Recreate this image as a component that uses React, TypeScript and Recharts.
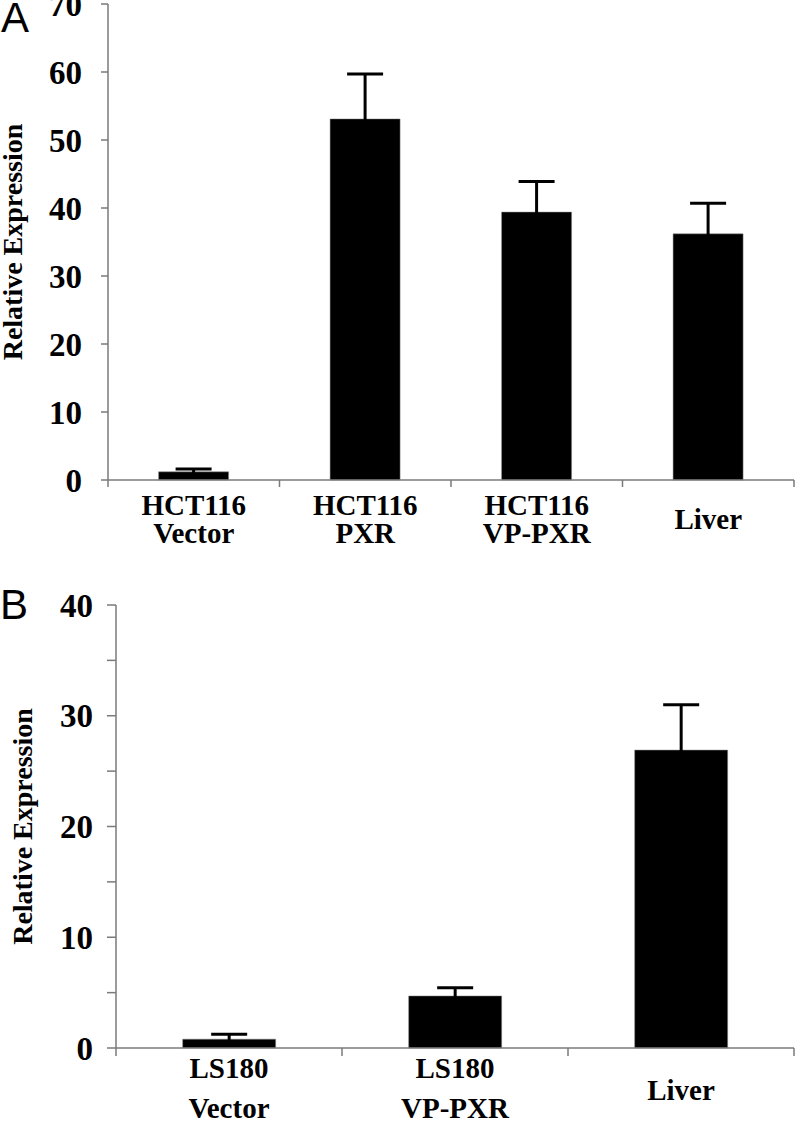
import React from 'react';
import { BarChart, Bar, XAxis, YAxis, ErrorBar, Label } from 'recharts';

// ---- Panel A data ----
const topCategories = ['HCT116\nVector', 'HCT116\nPXR', 'HCT116\nVP-PXR', 'Liver'];
const topValues = [1.2, 53.1, 39.4, 36.2];
const topErrors = [0.4, 6.6, 4.5, 4.5];
const topTicks = [0, 10, 20, 30, 40, 50, 60, 70];

// ---- Panel B data ----
const bottomCategories = ['LS180\nVector', 'LS180\nVP-PXR', 'Liver'];
const bottomValues = [0.8, 4.7, 26.9];
const bottomErrors = [0.45, 0.75, 4.1];
const bottomTicks = [0, 5, 10, 15, 20, 25, 30, 35, 40];

const yTitle = 'Relative Expression';

const topData = topCategories.map((c, i) => ({ name: c, value: topValues[i], err: topErrors[i] }));
const bottomData = bottomCategories.map((c, i) => ({ name: c, value: bottomValues[i], err: bottomErrors[i] }));

const SERIF = '"Liberation Serif", "Times New Roman", serif';
const SANS = '"Liberation Sans", Arial, sans-serif';
const AXIS = '#7a7a7a';

type TickCfg = {
  n: number;
  plotWidth: number;
  line1: number;
  line2: number;
  single: number;
  tickLen: number;
  fontSize: number;
};

const makeXTick = (cfg: TickCfg) => (props: any) => {
  const { x, y, payload, index } = props;
  const half = payload && payload.offset ? payload.offset : cfg.plotWidth / cfg.n / 2;
  const lines = String(payload.value).split('\n');
  const textStyle = { fontFamily: SERIF, fontWeight: 'bold' as const, fontSize: cfg.fontSize, fill: '#000' };
  return (
    <g>
      <line x1={x - half} y1={y} x2={x - half} y2={y + cfg.tickLen} stroke={AXIS} strokeWidth={1.5} />
      {index === cfg.n - 1 && (
        <line x1={x + half} y1={y} x2={x + half} y2={y + cfg.tickLen} stroke={AXIS} strokeWidth={1.5} />
      )}
      {lines.length === 1 ? (
        <text x={x} y={y + cfg.single} textAnchor="middle" style={textStyle}>{lines[0]}</text>
      ) : (
        <text x={x} y={y} textAnchor="middle" style={textStyle}>
          <tspan x={x} y={y + cfg.line1}>{lines[0]}</tspan>
          <tspan x={x} y={y + cfg.line2}>{lines[1]}</tspan>
        </text>
      )}
    </g>
  );
};

const yTickStyle = { fill: '#000', fontSize: 33, fontWeight: 'bold', fontFamily: SERIF };

export default function App() {
  return (
    <div style={{ position: 'absolute', left: 0, top: 0, width: 796, height: 1126, background: '#fff', overflow: 'hidden' }}>
      <div style={{ position: 'absolute', left: 1, top: -3, fontFamily: SANS, fontSize: 42, lineHeight: '42px', color: '#000' }}>A</div>
      <div style={{ position: 'absolute', left: 0, top: 584, fontFamily: SANS, fontSize: 42, lineHeight: '42px', color: '#000' }}>B</div>

      <div style={{ position: 'absolute', left: 0, top: 0 }}>
        <BarChart width={796} height={560} data={topData} margin={{ top: 4, right: 2, bottom: 0, left: 0 }} barCategoryGap="29.5%">
          <XAxis
            dataKey="name"
            height={80}
            axisLine={{ stroke: AXIS, strokeWidth: 1.5 }}
            tickLine={false}
            tickSize={0}
            tickMargin={0}
            interval={0}
            tick={makeXTick({ n: topCategories.length, plotWidth: 686, line1: 35, line2: 63, single: 49, tickLen: 7, fontSize: 29 })}
          />
          <YAxis
            width={108}
            domain={[0, 70]}
            ticks={topTicks}
            interval={0}
            axisLine={{ stroke: AXIS, strokeWidth: 1.5 }}
            tickLine={{ stroke: AXIS, strokeWidth: 1.5 }}
            tickSize={7}
            tickMargin={19}
            tick={yTickStyle}
          >
            <Label
              value={yTitle}
              angle={-90}
              position="insideLeft"
              offset={12}
              style={{ textAnchor: 'middle', fontFamily: SERIF, fontWeight: 'bold', fontSize: 28, fill: '#000' }}
            />
          </YAxis>
          <Bar dataKey="value" fill="#000" stroke="#888" strokeWidth={0.5} isAnimationActive={false}>
            <ErrorBar dataKey="err" width={18} strokeWidth={3} stroke="#000" direction="y" />
          </Bar>
        </BarChart>
      </div>

      <div style={{ position: 'absolute', left: 0, top: 560 }}>
        <BarChart width={796} height={566} data={bottomData} margin={{ top: 45, right: 2, bottom: 0, left: 0 }} barCategoryGap="29.5%">
          <XAxis
            dataKey="name"
            height={78}
            axisLine={{ stroke: AXIS, strokeWidth: 1.5 }}
            tickLine={false}
            tickSize={0}
            tickMargin={0}
            interval={0}
            tick={makeXTick({ n: bottomCategories.length, plotWidth: 678, line1: 30, line2: 70, single: 52, tickLen: 8, fontSize: 29 })}
          />
          <YAxis
            width={116}
            domain={[0, 40]}
            ticks={bottomTicks}
            interval={0}
            axisLine={{ stroke: AXIS, strokeWidth: 1.5 }}
            tickLine={{ stroke: AXIS, strokeWidth: 1.5 }}
            tickSize={9}
            tickMargin={14}
            tick={yTickStyle}
            tickFormatter={(v: number) => (v % 10 === 0 ? String(v) : '')}
          >
            <Label
              value={yTitle}
              angle={-90}
              position="insideLeft"
              offset={22}
              style={{ textAnchor: 'middle', fontFamily: SERIF, fontWeight: 'bold', fontSize: 28, fill: '#000' }}
            />
          </YAxis>
          <Bar dataKey="value" fill="#000" stroke="#888" strokeWidth={0.5} isAnimationActive={false}>
            <ErrorBar dataKey="err" width={18} strokeWidth={3} stroke="#000" direction="y" />
          </Bar>
        </BarChart>
      </div>
    </div>
  );
}
